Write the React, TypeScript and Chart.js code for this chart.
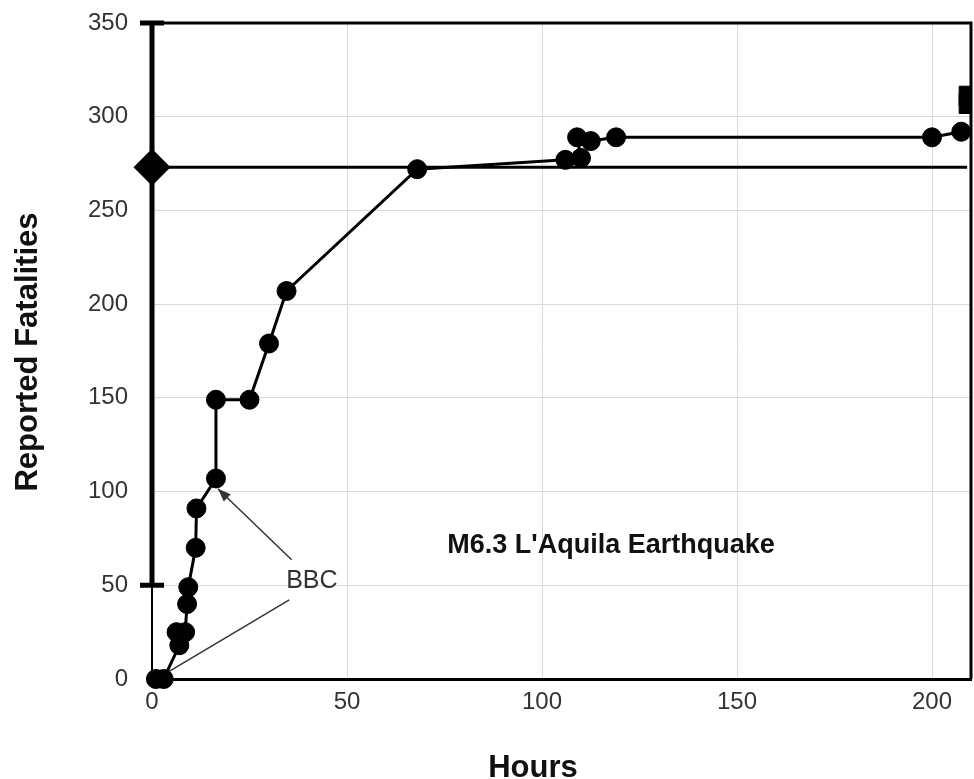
import React, { useEffect, useRef } from "react";
import { Chart, registerables } from "chart.js";

Chart.register(...registerables);

// ---- data ----
const hours = [1, 3, 7, 6.3, 8.5, 9, 9.3, 11.2, 11.4, 16.4, 16.4, 25, 30, 34.5, 68, 106, 110, 109, 112.5, 119, 200, 207.5];
const fatalities = [0, 0, 18, 25, 25, 40, 49, 70, 91, 107, 149, 149, 179, 207, 272, 277, 278, 289, 287, 289, 289, 292];
const finalHours = [209.5, 209.5];
const finalFatalities = [307, 311];
const estimateHour = 0;
const estimateValue = 273;
const estimateLow = 50;
const estimateHigh = 350;
const estimateLineHours = [0, 209];
const xTicks = [0, 50, 100, 150, 200];
const yTicks = [0, 50, 100, 150, 200, 250, 300, 350];
const xTitle = "Hours";
const yTitle = "Reported Fatalities";
const eventLabel = "M6.3 L'Aquila Earthquake";
const sourceLabel = "BBC";

const FONT = "'Liberation Sans', Arial, sans-serif";

const overlayPlugin = {
  id: "overlay",
  beforeDatasetsDraw(chart: any) {
    const { ctx, chartArea, scales } = chart;
    const xs = scales.x;
    const ys = scales.y;
    ctx.save();
    // frame top & right
    ctx.strokeStyle = "#000";
    ctx.lineWidth = 3;
    ctx.beginPath();
    ctx.moveTo(chartArea.left, chartArea.top);
    ctx.lineTo(chartArea.right, chartArea.top);
    ctx.lineTo(chartArea.right, chartArea.bottom);
    ctx.stroke();

    // error bar of the initial estimate
    const ex = xs.getPixelForValue(estimateHour);
    const eLo = ys.getPixelForValue(estimateLow);
    const eHi = ys.getPixelForValue(estimateHigh);
    ctx.lineWidth = 5;
    ctx.beginPath();
    ctx.moveTo(ex, eLo);
    ctx.lineTo(ex, eHi);
    ctx.moveTo(ex - 12, eLo);
    ctx.lineTo(ex + 12, eLo);
    ctx.moveTo(ex - 12, eHi);
    ctx.lineTo(ex + 12, eHi);
    ctx.stroke();

    // BBC arrows
    const arrows = [
      { from: [35.8, 63.6], to: [16.9, 101.5], head: true },
      { from: [35.2, 42.2], to: [1.5, 0.5], head: false },
    ];
    ctx.strokeStyle = "#333";
    ctx.fillStyle = "#333";
    ctx.lineWidth = 1.5;
    for (const a of arrows) {
      const x1 = xs.getPixelForValue(a.from[0]);
      const y1 = ys.getPixelForValue(a.from[1]);
      const x2 = xs.getPixelForValue(a.to[0]);
      const y2 = ys.getPixelForValue(a.to[1]);
      ctx.beginPath();
      ctx.moveTo(x1, y1);
      ctx.lineTo(x2, y2);
      ctx.stroke();
      if (a.head) {
        const ang = Math.atan2(y2 - y1, x2 - x1);
        const L = 13, W = 5;
        ctx.beginPath();
        ctx.moveTo(x2, y2);
        ctx.lineTo(x2 - L * Math.cos(ang) + W * Math.sin(ang), y2 - L * Math.sin(ang) - W * Math.cos(ang));
        ctx.lineTo(x2 - L * Math.cos(ang) - W * Math.sin(ang), y2 - L * Math.sin(ang) + W * Math.cos(ang));
        ctx.closePath();
        ctx.fill();
      }
    }
    ctx.restore();
  },
  afterDraw(chart: any) {
    const { ctx, scales } = chart;
    const xs = scales.x;
    const ys = scales.y;
    ctx.save();
    ctx.fillStyle = "#111";
    ctx.textAlign = "center";
    ctx.textBaseline = "middle";
    ctx.font = `bold 27px ${FONT}`;
    ctx.fillText(eventLabel, xs.getPixelForValue(117.7), ys.getPixelForValue(71));
    ctx.fillStyle = "#333";
    ctx.font = `25px ${FONT}`;
    ctx.fillText(sourceLabel, xs.getPixelForValue(41), ys.getPixelForValue(52.4));

    // axis titles
    ctx.fillStyle = "#111";
    ctx.font = `bold 31px ${FONT}`;
    ctx.textBaseline = "alphabetic";
    ctx.fillText(xTitle, 533, 777);
    ctx.translate(37, 352);
    ctx.rotate(-Math.PI / 2);
    ctx.fillText(yTitle, 0, 0);
    ctx.restore();
  },
};

export default function App() {
  const ref = useRef<HTMLCanvasElement | null>(null);
  useEffect(() => {
    if (!ref.current) return;
    const chart = new Chart(ref.current, {
      type: "scatter",
      data: {
        datasets: [
          {
            data: estimateLineHours.map((h) => ({ x: h, y: estimateValue })),
            showLine: true,
            borderColor: "#000",
            borderWidth: 3,
            pointRadius: 0,
          },
          {
            data: hours.map((h, i) => ({ x: h, y: fatalities[i] })),
            showLine: true,
            borderColor: "#000",
            backgroundColor: "#000",
            borderWidth: 3,
            pointRadius: 9.5,
            pointBorderWidth: 1,
            pointStyle: "circle",
            clip: false,
          },
          {
            data: [{ x: estimateHour, y: estimateValue }],
            backgroundColor: "#000",
            borderColor: "#000",
            pointStyle: "rectRot",
            pointRadius: 18,
            pointBorderWidth: 1,
            clip: false,
          },
          {
            data: finalHours.map((h, i) => ({ x: h, y: finalFatalities[i] })),
            backgroundColor: "#000",
            borderColor: "#000",
            pointStyle: "rect",
            pointRadius: 14,
            pointBorderWidth: 1,
          },
        ],
      },
      options: {
        responsive: false,
        animation: false,
        events: [],
        layout: { autoPadding: false, padding: { top: 23, right: 3, left: 0, bottom: 0 } },
        plugins: { legend: { display: false }, tooltip: { enabled: false } },
        scales: {
          x: {
            type: "linear",
            min: 0,
            max: 210,
            afterBuildTicks: (s: any) => {
              s.ticks = xTicks.map((v) => ({ value: v }));
            },
            afterFit: (s: any) => {
              s.height = 100;
              s.paddingLeft = 0;
              s.paddingRight = 0;
            },
            grid: { color: "#d9d9d9", lineWidth: 1, drawTicks: false },
            border: { color: "#000", width: 3 },
            ticks: { color: "#333", font: { family: FONT, size: 24 }, padding: 9, maxRotation: 0 },
          },
          y: {
            type: "linear",
            min: 0,
            max: 350,
            afterBuildTicks: (s: any) => {
              s.ticks = yTicks.map((v) => ({ value: v }));
            },
            afterFit: (s: any) => {
              s.width = 152;
              s.paddingTop = 0;
              s.paddingBottom = 0;
            },
            grid: { color: "#d9d9d9", lineWidth: 1, drawTicks: false },
            border: { color: "#000", width: 2 },
            ticks: { color: "#333", font: { family: FONT, size: 24 }, padding: 24 },
          },
        },
      },
      plugins: [overlayPlugin],
    } as any);
    return () => chart.destroy();
  }, []);
  return (
    <div
      style={{
        position: "absolute",
        left: 0,
        top: 0,
        width: 974,
        height: 779,
        overflow: "hidden",
        background: "#fff",
      }}
    >
      <canvas ref={ref} width={974} height={779} style={{ display: "block" }} />
    </div>
  );
}
